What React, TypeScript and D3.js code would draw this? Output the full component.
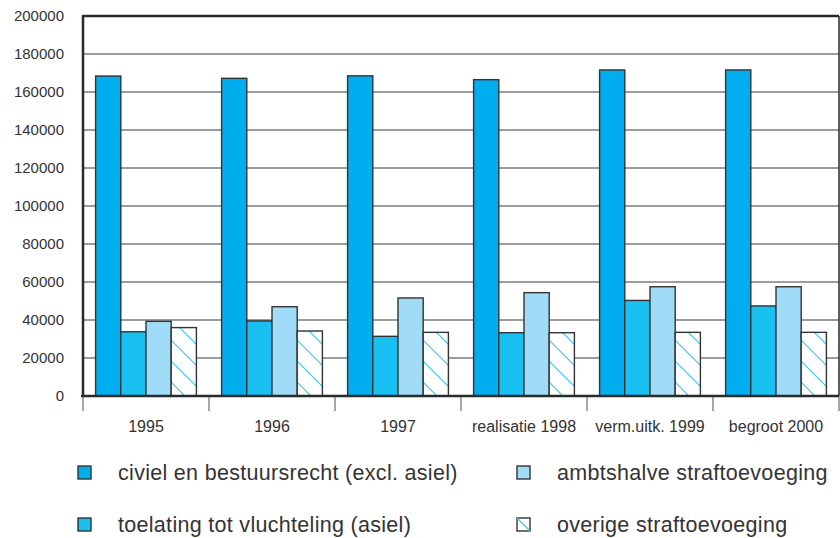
import React from "react";
import * as d3 from "d3";

const categories = ["1995", "1996", "1997", "realisatie 1998", "verm.uitk. 1999", "begroot 2000"];
const seriesNames = [
  "civiel en bestuursrecht (excl. asiel)",
  "toelating tot vluchteling (asiel)",
  "ambtshalve straftoevoeging",
  "overige straftoevoeging",
];
const civiel = [168400, 167200, 168500, 166500, 171600, 171600];
const asiel = [33800, 39500, 31400, 33300, 50300, 47400];
const ambtshalve = [39300, 47000, 51600, 54400, 57500, 57500];
const overige = [36000, 34200, 33500, 33300, 33500, 33500];
const yTicks = [0, 20000, 40000, 60000, 80000, 100000, 120000, 140000, 160000, 180000, 200000];

const seriesValues = [civiel, asiel, ambtshalve, overige];
const colors = ["#00aeef", "#18c1f2", "#a0dcf7", "url(#hatch)"];

const W = 840;
const H = 538;
const left = 83;
const right = 839;
const top = 16;
const bottom = 396;
const font = "'Liberation Sans', Arial, Helvetica, sans-serif";
const textColor = "#333";

export default function App() {
  const x = d3.scaleBand<string>().domain(categories).range([left, right]).padding(0);
  const bw = x.bandwidth();
  const inner = d3
    .scaleBand<number>()
    .domain([0, 1, 2, 3])
    .range([bw * 0.1, bw * 0.9])
    .padding(0);
  const y = d3.scaleLinear().domain([0, 200000]).range([bottom, top]);

  const legendItems = [
    { i: 0, x: 78, y: 466 },
    { i: 2, x: 517, y: 466 },
    { i: 1, x: 78, y: 518 },
    { i: 3, x: 517, y: 518 },
  ];

  return (
    <svg
      width={W}
      height={H}
      style={{ position: "absolute", left: 0, top: 0, background: "#fff" }}
      fontFamily={font}
    >
      <defs>
        <pattern id="hatch" patternUnits="userSpaceOnUse" width={21} height={21}>
          <rect width={21} height={21} fill="#fff" />
          <path d="M0,0 L21,21 M-2,19 L2,23 M19,-2 L23,2" stroke="#3ec3f3" strokeWidth={1.2} />
        </pattern>
      </defs>

      {/* gridlines */}
      {yTicks.slice(1, -1).map((t) => (
        <line key={t} x1={left} x2={right} y1={y(t)} y2={y(t)} stroke="#3a3a3a" strokeWidth={1} />
      ))}

      {/* y labels */}
      {yTicks.map((t) => (
        <text
          key={"yl" + t}
          x={64}
          y={y(t)}
          dy="0.36em"
          textAnchor="end"
          fontSize={15}
          fill={textColor}
        >
          {t}
        </text>
      ))}

      {/* bars */}
      {categories.map((c, ci) => (
        <g key={c} transform={`translate(${x(c)},0)`}>
          {seriesValues.map((vals, si) => (
            <rect
              key={si}
              x={inner(si)}
              y={y(vals[ci])}
              width={inner.bandwidth()}
              height={bottom - y(vals[ci])}
              fill={colors[si]}
              stroke="#333"
              strokeWidth={1.4}
            />
          ))}
        </g>
      ))}

      {/* category ticks below axis */}
      {categories.map((c) => (
        <line
          key={"t" + c}
          x1={x(c)}
          x2={x(c)}
          y1={bottom}
          y2={411}
          stroke="#8a8a8a"
          strokeWidth={1.5}
        />
      ))}
      <line x1={right} x2={right} y1={bottom} y2={411} stroke="#8a8a8a" strokeWidth={1.5} />

      {/* frame */}
      <line x1={left} x2={right} y1={top} y2={top} stroke="#2a2a2a" strokeWidth={2.5} />
      <line x1={right} x2={right} y1={top} y2={bottom} stroke="#2a2a2a" strokeWidth={1.5} />
      <line x1={left} x2={left} y1={top - 1} y2={bottom + 1} stroke="#2a2a2a" strokeWidth={2.5} />
      <line x1={left - 2} x2={right} y1={bottom} y2={bottom} stroke="#2a2a2a" strokeWidth={2.5} />

      {/* x labels */}
      {categories.map((c) => (
        <text
          key={"xl" + c}
          x={(x(c) as number) + bw / 2}
          y={432}
          textAnchor="middle"
          fontSize={16}
          fill={textColor}
        >
          {c}
        </text>
      ))}

      {/* legend */}
      {legendItems.map((it) => (
        <g key={"lg" + it.i}>
          <rect
            x={it.x}
            y={it.y}
            width={13}
            height={13}
            fill={it.i === 3 ? "#fff" : colors[it.i]}
            stroke="#333"
            strokeWidth={1.4}
          />
          {it.i === 3 && (
            <line
              x1={it.x}
              y1={it.y}
              x2={it.x + 13}
              y2={it.y + 13}
              stroke="#3ec3f3"
              strokeWidth={1.3}
            />
          )}
          <text
            x={it.x + 40}
            y={it.y + 14}
            fontSize={21.5}
            letterSpacing={0.3}
            fill={textColor}
          >
            {seriesNames[it.i]}
          </text>
        </g>
      ))}
    </svg>
  );
}
